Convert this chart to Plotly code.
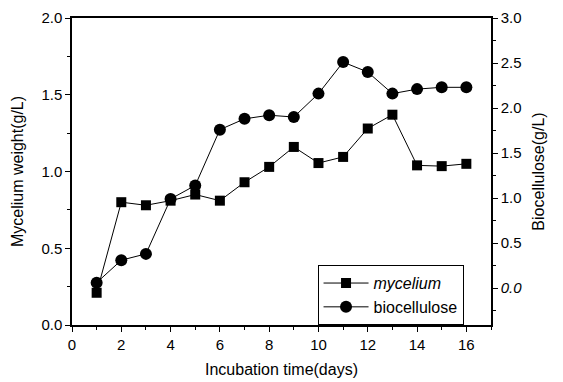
import plotly.graph_objects as go

days = [1, 2, 3, 4, 5, 6, 7, 8, 9, 10, 11, 12, 13, 14, 15, 16]
mycelium = [0.21, 0.80, 0.78, 0.81, 0.85, 0.81, 0.93, 1.03, 1.16, 1.055, 1.095, 1.28, 1.37, 1.04, 1.035, 1.05]
biocellulose = [0.06, 0.31, 0.38, 0.99, 1.14, 1.76, 1.88, 1.92, 1.90, 2.16, 2.51, 2.40, 2.16, 2.21, 2.23, 2.23]

x_ticks = [0, 2, 4, 6, 8, 10, 12, 14, 16]
left_ticks = [0.0, 0.5, 1.0, 1.5, 2.0]
right_ticks = [0.0, 0.5, 1.0, 1.5, 2.0, 2.5, 3.0]
right_ticktext = ["<i>0.0</i>", "0.5", "1.0", "1.5", "2.0", "2.5", "3.0"]

FONT = "Liberation Sans, Arial, sans-serif"

fig = go.Figure()
fig.add_trace(go.Scatter(
    x=days, y=mycelium, mode="lines+markers", name="<i>mycelium</i>",
    line=dict(color="black", width=1),
    marker=dict(symbol="square", size=10, color="black"),
    yaxis="y",
))
fig.add_trace(go.Scatter(
    x=days, y=biocellulose, mode="lines+markers", name="biocellulose",
    line=dict(color="black", width=1),
    marker=dict(symbol="circle", size=12, color="black"),
    yaxis="y2",
))

axis_common = dict(
    showgrid=False, zeroline=False, showline=True, linecolor="black", linewidth=1.5,
    ticks="outside", ticklen=5, tickwidth=1.2, tickcolor="black",
    tickfont=dict(family=FONT, size=15, color="black"),
    automargin=False,
)

fig.update_layout(
    width=563, height=382,
    margin=dict(l=72, r=72, t=18, b=57),
    paper_bgcolor="white", plot_bgcolor="white",
    font=dict(family=FONT, size=15, color="black"),
    xaxis=dict(
        **axis_common, range=[0, 17], tickvals=x_ticks, mirror=True,
        minor=dict(ticks="outside", ticklen=3, tickcolor="black", dtick=1, tick0=0),
        title=dict(text="Incubation time(days)", font=dict(family=FONT, size=16), standoff=12),
    ),
    yaxis=dict(
        **axis_common, range=[0, 2.0], tickvals=left_ticks, tickformat=".1f",
        minor=dict(ticks="outside", ticklen=3, tickcolor="black", dtick=0.25, tick0=0),
        title=dict(text="Mycelium weight(g/L)", font=dict(family=FONT, size=16), standoff=14),
    ),
    yaxis2=dict(
        **axis_common, range=[-0.41, 3.0], overlaying="y", side="right",
        tickvals=right_ticks, ticktext=right_ticktext,
        minor=dict(ticks="outside", ticklen=3, tickcolor="black", dtick=0.25, tick0=0),
        title=dict(text="Biocellulose(g/L)", font=dict(family=FONT, size=16), standoff=12),
    ),
    legend=dict(
        x=0.586, y=0.195, xanchor="left", yanchor="top",
        bordercolor="black", borderwidth=1, bgcolor="white",
        font=dict(family=FONT, size=16, color="black"),
        tracegroupgap=0, itemwidth=45,
    ),
    showlegend=True,
)

fig.write_html("out.html")
